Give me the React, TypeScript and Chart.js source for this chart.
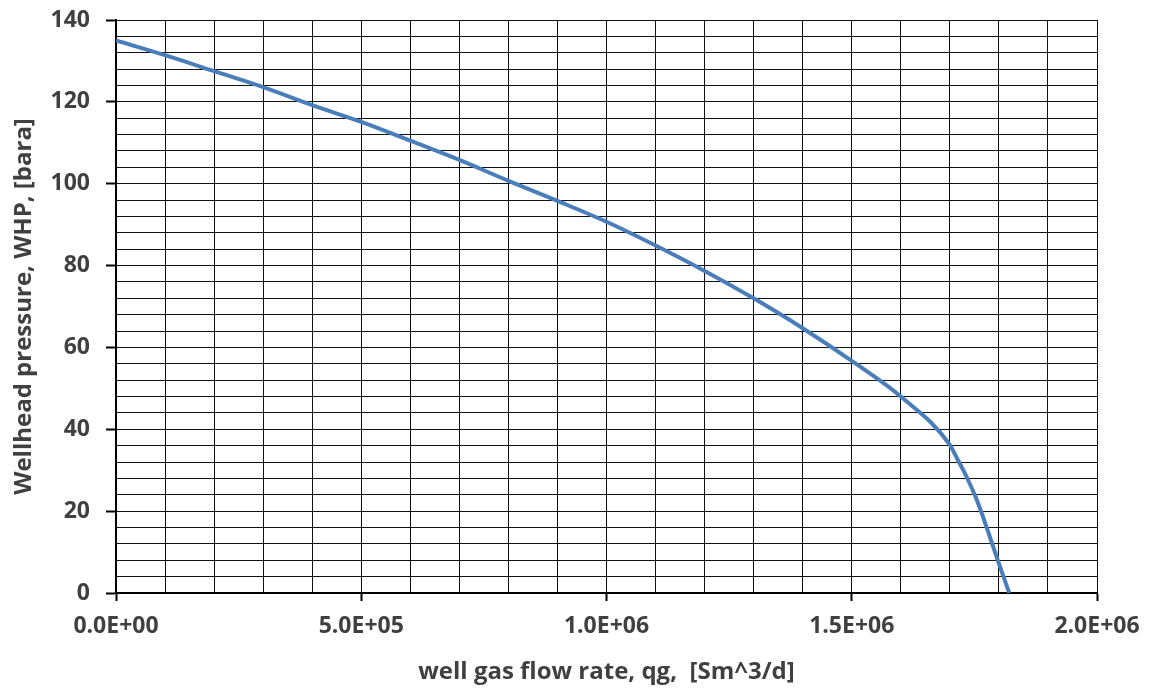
import React, { useEffect, useRef } from 'react';
import { Chart, registerables } from 'chart.js';

Chart.register(...registerables);

// well gas flow rate, Sm^3/d
const flowRate = [
  0, 100000, 200000, 300000, 400000, 500000, 600000, 700000, 800000, 900000,
  1000000, 1100000, 1200000, 1300000, 1400000, 1500000, 1600000, 1700000,
  1715000, 1734000, 1755000, 1800000, 1821000,
];
// wellhead pressure, bara
const whp = [
  135.0, 131.4, 127.5, 123.6, 119.2, 115.1, 110.5, 105.8, 100.7, 95.8,
  90.7, 84.9, 78.7, 72.0, 64.7, 56.7, 48.0, 36.2,
  32.8, 28.4, 22.7, 7.2, 0,
];

const xTickValues = [0, 500000, 1000000, 1500000, 2000000];
const xTickLabels = ['0.0E+00', '5.0E+05', '1.0E+06', '1.5E+06', '2.0E+06'];
const yTickValues = [0, 20, 40, 60, 80, 100, 120, 140];
const yTickLabels = ['0', '20', '40', '60', '80', '100', '120', '140'];

const xTitle = 'well gas flow rate, qg,  [Sm^3/d]';
const yTitle = 'Wellhead pressure, WHP, [bara]';

const FONT = "'Open Sans', 'DejaVu Sans', sans-serif";
const TEXT = '#404040';

function findIdx(arr: number[], v: number) {
  return arr.findIndex((a) => Math.abs(a - v) < 1e-6 * Math.max(1, Math.abs(a)));
}

export default function App() {
  const ref = useRef<HTMLCanvasElement>(null);

  useEffect(() => {
    if (!ref.current) return;
    const chart = new Chart(ref.current, {
      type: 'line',
      data: {
        datasets: [
          {
            data: flowRate.map((x, i) => ({ x, y: whp[i] })),
            borderColor: '#4a7ebb',
            borderWidth: 4,
            pointRadius: 0,
            fill: false,
            cubicInterpolationMode: 'monotone',
          },
        ],
      },
      options: {
        animation: false,
        responsive: false,
        maintainAspectRatio: false,
        layout: { padding: { left: 0, top: 20, right: 54, bottom: 0 } },
        plugins: { legend: { display: false }, tooltip: { enabled: false } },
        scales: {
          x: {
            type: 'linear',
            min: 0,
            max: 2000000,
            afterFit: (s: any) => {
              s.height = 95;
              s.paddingLeft = 0;
              s.paddingRight = 0;
            },
            border: { display: true, color: '#000', width: 2 },
            grid: {
              color: '#111',
              lineWidth: 1,
              drawTicks: true,
              tickLength: 8,
              tickWidth: 2,
              tickColor: (ctx: any) =>
                ctx.tick && findIdx(xTickValues, ctx.tick.value) >= 0 ? '#000' : 'rgba(0,0,0,0)',
            },
            ticks: {
              stepSize: 100000,
              autoSkip: false,
              maxRotation: 0,
              padding: 12,
              color: TEXT,
              font: { family: FONT, size: 23, weight: 'bold' },
              callback: (v: any) => {
                const i = findIdx(xTickValues, Number(v));
                return i >= 0 ? xTickLabels[i] : '';
              },
            },
            title: {
              display: true,
              text: xTitle,
              color: TEXT,
              font: { family: FONT, size: 24, weight: 'bold' },
              padding: { top: 0, bottom: 1 },
            },
          },
          y: {
            type: 'linear',
            min: 0,
            max: 140,
            afterFit: (s: any) => {
              s.width = 116;
              s.paddingTop = 0;
              s.paddingBottom = 0;
            },
            border: { display: true, color: '#000', width: 2 },
            grid: {
              color: '#111',
              lineWidth: 1,
              drawTicks: true,
              tickLength: 10,
              tickWidth: 2,
              tickColor: (ctx: any) =>
                ctx.tick && findIdx(yTickValues, ctx.tick.value) >= 0 ? '#000' : 'rgba(0,0,0,0)',
            },
            ticks: {
              stepSize: 4,
              autoSkip: false,
              padding: 16,
              color: TEXT,
              font: { family: FONT, size: 23, weight: 'bold' },
              callback: (v: any) => {
                const i = findIdx(yTickValues, Number(v));
                return i >= 0 ? yTickLabels[i] : '';
              },
            },
            title: {
              display: true,
              text: yTitle,
              color: TEXT,
              font: { family: FONT, size: 24, weight: 'bold' },
              padding: { top: 10, bottom: 0 },
            },
          },
        },
      },
    } as any);
    return () => chart.destroy();
  }, []);

  return (
    <div style={{ position: 'fixed', left: 0, top: 0, width: 1151, height: 688, background: '#fff' }}>
      <canvas ref={ref} width={1151} height={688} style={{ display: 'block' }} />
    </div>
  );
}
